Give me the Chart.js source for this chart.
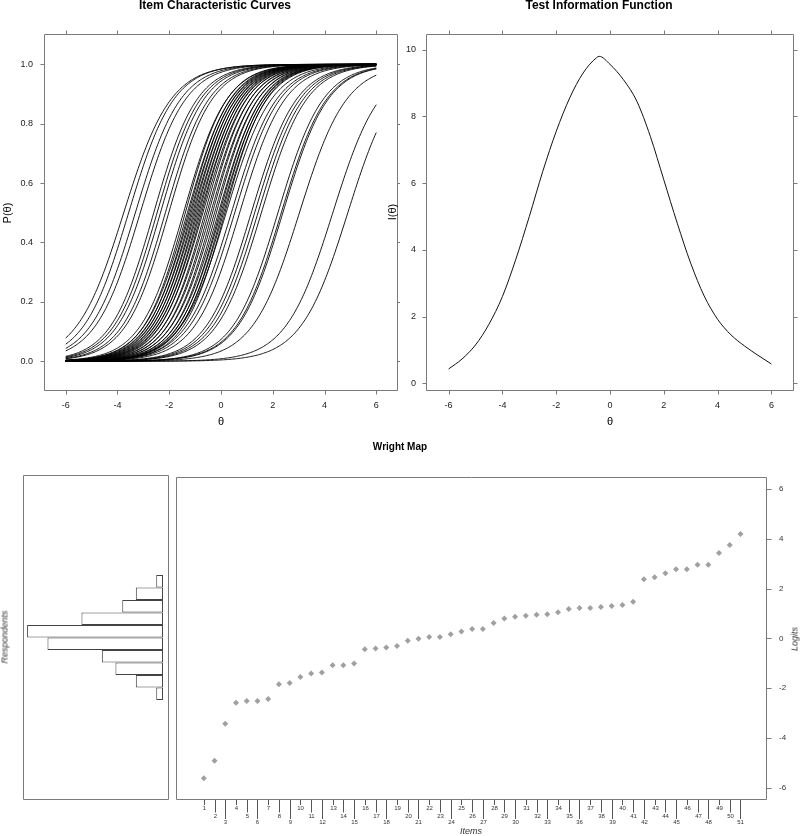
<!DOCTYPE html>
<html>
<head>
<meta charset="utf-8">
<title>IRT plots</title>
<script src="https://cdn.jsdelivr.net/npm/chart.js@4.4.1/dist/chart.umd.min.js"></script>
<style>
html,body{margin:0;padding:0;background:#fff;}
body{width:800px;height:836px;position:relative;overflow:hidden;font-family:"Liberation Sans",Arial,sans-serif;color:#000;}
.box{position:absolute;}
.box canvas{display:block;}
.lbl{position:absolute;white-space:nowrap;line-height:1;transform:translate(-50%,-50%);}
.rot{transform:translate(-50%,-50%) rotate(-90deg);}
</style>
</head>
<body>
<div class="box" style="left:0;top:0;width:400px;height:430px"><canvas id="icc"></canvas></div>
<div class="box" style="left:400px;top:0;width:400px;height:430px"><canvas id="tif"></canvas></div>
<div class="box" style="left:0;top:460px;width:172px;height:376px"><canvas id="hist"></canvas></div>
<div class="box" style="left:172px;top:460px;width:628px;height:376px"><canvas id="wright"></canvas></div>

<div class="lbl" style="left:215px;top:5px;font-weight:bold;font-size:12px">Item Characteristic Curves</div>
<div class="lbl" style="left:599px;top:5px;font-weight:bold;font-size:12px">Test Information Function</div>
<div class="lbl rot" style="left:7px;top:213px;font-size:11px">P(θ)</div>
<div class="lbl rot" style="left:392px;top:212px;font-size:11px">I(θ)</div>
<div class="lbl" style="left:221px;top:421px;font-size:11px">θ</div>
<div class="lbl" style="left:610px;top:421px;font-size:11px">θ</div>
<div class="lbl" style="left:400px;top:447px;font-weight:bold;font-size:10px">Wright Map</div>
<div class="lbl rot" style="left:5px;top:637px;font-size:9px;font-style:italic;color:#333">Respondents</div>
<div class="lbl rot" style="left:795px;top:639px;font-size:9px;font-style:italic;color:#333">Logits</div>
<div class="lbl" style="left:471px;top:831px;font-size:9px;font-style:italic;color:#333">Items</div>

<script>
// ---------------- data ----------------
const thetaTicks = [-6, -4, -2, 0, 2, 4, 6];
const probTicks  = [0, 0.2, 0.4, 0.6, 0.8, 1.0];
const infoTicks  = [0, 2, 4, 6, 8, 10];
const logitTicks = [-6, -4, -2, 0, 2, 4, 6];

// Item characteristic curves: difficulty (theta where P = 0.5) and slope
const iccDifficulty = [-3.76, -3.57, -3.31, -3.12, -2.60, -2.47, -2.34, -2.15, -2.02,
  -1.45, -1.38, -1.30, -1.25, -1.20, -1.15, -1.10, -1.05, -1.00, -0.95, -0.90, -0.85, -0.80, -0.75,
  -0.70, -0.62, -0.55, -0.48, -0.40, -0.33, -0.25, -0.18, -0.10, -0.05, 0.00, 0.05, 0.10, 0.15,
  0.20, 0.40, 0.53, 0.72, 1.17, 1.30, 1.43, 1.56, 2.20, 2.33, 2.39, 3.03, 4.32, 4.90];
const iccSlope = [1.10, 1.15, 1.15, 1.15, 1.20, 1.20, 1.20, 1.20, 1.20,
  1.20, 1.25, 1.20, 1.25, 1.20, 1.25, 1.20, 1.25, 1.20, 1.25, 1.20, 1.25, 1.20, 1.25,
  1.20, 1.25, 1.20, 1.25, 1.20, 1.25, 1.20, 1.25, 1.20, 1.25, 1.20, 1.25, 1.20, 1.25,
  1.15, 1.15, 1.15, 1.15, 1.15, 1.15, 1.15, 1.15, 1.15, 1.15, 1.15, 1.10, 1.10, 1.10];

// Test information function
const tifTheta = [-6, -5.5, -5, -4.5, -4, -3.5, -3, -2.5, -2, -1.5, -1, -0.5, -0.4, 0, 0.5, 1, 1.5, 2, 2.5, 3, 3.5, 4, 4.5, 5, 5.5, 6];
const tifInfo  = [0.43, 0.73, 1.15, 1.77, 2.60, 3.72, 5.00, 6.35, 7.55, 8.55, 9.30, 9.76, 9.80, 9.56, 9.10, 8.45, 7.40, 6.10, 4.80, 3.60, 2.62, 1.92, 1.45, 1.12, 0.84, 0.58];

// Wright map: items and their difficulty (logits)
const itemNumbers = [1,2,3,4,5,6,7,8,9,10,11,12,13,14,15,16,17,18,19,20,21,22,23,24,25,26,27,28,29,30,
  31,32,33,34,35,36,37,38,39,40,41,42,43,44,45,46,47,48,49,50,51];
const itemLogits = [-5.63, -4.92, -3.43, -2.59, -2.52, -2.52, -2.44, -1.84, -1.79, -1.55, -1.41, -1.37,
  -1.08, -1.08, -1.01, -0.44, -0.41, -0.37, -0.31, -0.09, -0.01, 0.06, 0.06, 0.17, 0.28, 0.38, 0.38,
  0.62, 0.80, 0.87, 0.91, 0.95, 0.97, 1.05, 1.18, 1.22, 1.22, 1.26, 1.30, 1.34, 1.47,
  2.38, 2.46, 2.62, 2.78, 2.78, 2.96, 2.96, 3.44, 3.76, 4.20];

// Wright map: respondents histogram (bin centre in logits, count)
const respBinCenter = [2.25, 1.75, 1.25, 0.75, 0.25, -0.25, -0.75, -1.25, -1.75, -2.25];
const respCount     = [1, 4, 6, 12, 20, 17, 9, 7, 4, 1];

// ---------------- helpers ----------------
const FRAME = '#7a7a7a';
Chart.defaults.font.family = '"Liberation Sans", Arial, sans-serif';
Chart.defaults.animation = false;
Chart.defaults.plugins.legend.display = false;
Chart.defaults.plugins.tooltip.enabled = false;

const latticeFrame = {
  id: 'latticeFrame',
  afterDraw(chart, args, o) {
    const ctx = chart.ctx, a = chart.chartArea;
    const L = Math.round(a.left) + 0.5, R = Math.round(a.right) - 0.5;
    const T = Math.round(a.top) + 0.5, B = Math.round(a.bottom) - 0.5;
    const len = o.len || 4;
    const xs = chart.scales.x, ys = chart.scales.y;
    ctx.save();
    ctx.strokeStyle = o.color || FRAME;
    ctx.lineWidth = 1;
    ctx.beginPath();
    ctx.rect(L, T, R - L, B - T);
    (o.xTicks || []).forEach(v => {
      const px = Math.round(xs.getPixelForValue(v)) + 0.5;
      if ((o.xSides || '').includes('b')) { ctx.moveTo(px, B); ctx.lineTo(px, B + len); }
      if ((o.xSides || '').includes('t')) { ctx.moveTo(px, T); ctx.lineTo(px, T - len); }
    });
    (o.yTicks || []).forEach(v => {
      const py = Math.round(ys.getPixelForValue(v)) + 0.5;
      if ((o.ySides || '').includes('l')) { ctx.moveTo(L, py); ctx.lineTo(L - len, py); }
      if ((o.ySides || '').includes('r')) { ctx.moveTo(R, py); ctx.lineTo(R + len, py); }
    });
    ctx.stroke();
    ctx.restore();
  }
};

const itemAxis = {
  id: 'itemAxis',
  afterDraw(chart) {
    const ctx = chart.ctx, a = chart.chartArea, xs = chart.scales.x;
    const tickEnd = [5, 12.5, 19];
    const labelY = [8.3, 16, 22.3];
    const B = Math.round(a.bottom);
    ctx.save();
    ctx.strokeStyle = '#555';
    ctx.lineWidth = 1;
    ctx.fillStyle = '#333';
    ctx.font = '6px "Liberation Sans", Arial, sans-serif';
    ctx.textAlign = 'center';
    ctx.textBaseline = 'middle';
    itemNumbers.forEach(n => {
      const k = (n - 1) % 3;
      const px = Math.round(xs.getPixelForValue(n)) + 0.5;
      ctx.beginPath();
      ctx.moveTo(px, B);
      ctx.lineTo(px, B + tickEnd[k]);
      ctx.stroke();
      ctx.fillText(String(n), px, B + labelY[k] + 0.5);
    });
    ctx.restore();
  }
};

const setTicks = vals => s => { s.ticks = vals.map(v => ({ value: v })); };
const tickFont = { size: 9 };
const noGrid = { display: false, drawTicks: false, tickLength: 0 };

// ---------------- ICC ----------------
const thetaGrid = [];
for (let t = -6; t <= 6.0001; t += 0.05) thetaGrid.push(Math.round(t * 100) / 100);

new Chart(document.getElementById('icc'), {
  type: 'line',
  data: {
    datasets: iccDifficulty.map((b, i) => ({
      data: thetaGrid.map(t => ({ x: t, y: 1 / (1 + Math.exp(-iccSlope[i] * (t - b))) })),
      borderColor: '#000', borderWidth: 0.9, pointRadius: 0, tension: 0, fill: false
    }))
  },
  options: {
    responsive: true, maintainAspectRatio: false, devicePixelRatio: 1,
    layout: { padding: { top: 34, right: 2, left: 0, bottom: 0 } },
    plugins: { latticeFrame: { xTicks: thetaTicks, yTicks: probTicks, xSides: 'bt', ySides: 'lr', len: 4 } },
    scales: {
      x: { type: 'linear', min: -6.84, max: 6.84, afterBuildTicks: setTicks(thetaTicks),
           afterFit: s => { s.height = 39; },
           grid: noGrid, border: { display: false },
           ticks: { padding: 9, font: tickFont, color: '#222', maxRotation: 0 } },
      y: { type: 'linear', min: -0.1, max: 1.102, afterBuildTicks: setTicks(probTicks),
           afterFit: s => { s.width = 44; },
           grid: noGrid, border: { display: false },
           ticks: { padding: 11, font: tickFont, color: '#222', callback: v => Number(v).toFixed(1) } }
    }
  },
  plugins: [latticeFrame]
});

// ---------------- TIF ----------------
new Chart(document.getElementById('tif'), {
  type: 'line',
  data: {
    datasets: [{
      data: tifTheta.map((t, i) => ({ x: t, y: tifInfo[i] })),
      borderColor: '#111', borderWidth: 1, pointRadius: 0, cubicInterpolationMode: 'monotone', fill: false
    }]
  },
  options: {
    responsive: true, maintainAspectRatio: false, devicePixelRatio: 1,
    layout: { padding: { top: 34, right: 6, left: 0, bottom: 0 } },
    plugins: { latticeFrame: { xTicks: thetaTicks, yTicks: infoTicks, xSides: 'bt', ySides: 'lr', len: 4 } },
    scales: {
      x: { type: 'linear', min: -6.84, max: 6.84, afterBuildTicks: setTicks(thetaTicks),
           afterFit: s => { s.height = 39; },
           grid: noGrid, border: { display: false },
           ticks: { padding: 9, font: tickFont, color: '#222', maxRotation: 0 } },
      y: { type: 'linear', min: -0.23, max: 10.47, afterBuildTicks: setTicks(infoTicks),
           afterFit: s => { s.width = 26; },
           grid: noGrid, border: { display: false },
           ticks: { padding: 10, font: tickFont, color: '#222' } }
    }
  },
  plugins: [latticeFrame]
});

// ---------------- Respondents histogram ----------------
new Chart(document.getElementById('hist'), {
  type: 'bar',
  data: {
    datasets: [{
      data: respBinCenter.map((c, i) => ({ x: respCount[i], y: c })),
      backgroundColor: '#ffffff', borderColor: '#444', borderWidth: 1, borderSkipped: false,
      barPercentage: 1, categoryPercentage: 1, inflateAmount: 0
    }]
  },
  options: {
    indexAxis: 'y',
    responsive: true, maintainAspectRatio: false, devicePixelRatio: 1,
    datasets: { bar: { barPercentage: 1, categoryPercentage: 1 } },
    layout: { padding: { top: 15, right: 3, left: 23, bottom: 36 } },
    plugins: { latticeFrame: {} },
    scales: {
      x: { type: 'linear', reverse: true, min: -0.88, max: 20.6, display: false },
      y: { type: 'linear', min: -6.5, max: 6.5, offset: false, grid: { offset: false },
           display: false, afterBuildTicks: setTicks(logitTicks) }
    }
  },
  plugins: [latticeFrame]
});

// ---------------- Item map ----------------
new Chart(document.getElementById('wright'), {
  type: 'scatter',
  data: {
    datasets: [{
      data: itemNumbers.map((n, i) => ({ x: n, y: itemLogits[i] })),
      pointStyle: 'rectRot', pointRadius: 3, backgroundColor: '#a0a0a0', borderColor: '#a0a0a0', borderWidth: 0
    }]
  },
  options: {
    responsive: true, maintainAspectRatio: false, devicePixelRatio: 1,
    layout: { padding: { top: 15, right: 0, left: 0, bottom: 36 } },
    plugins: { latticeFrame: { yTicks: logitTicks, ySides: 'r', len: 5 } },
    scales: {
      x: { type: 'linear', min: -1.59, max: 53.47, display: false },
      y: { type: 'linear', position: 'right', min: -6.5, max: 6.5, afterBuildTicks: setTicks(logitTicks),
           afterFit: s => { s.width = 33; },
           grid: noGrid, border: { display: false },
           ticks: { padding: 12, font: { size: 8 }, color: '#333' } }
    }
  },
  plugins: [latticeFrame, itemAxis]
});
</script>
</body>
</html>
